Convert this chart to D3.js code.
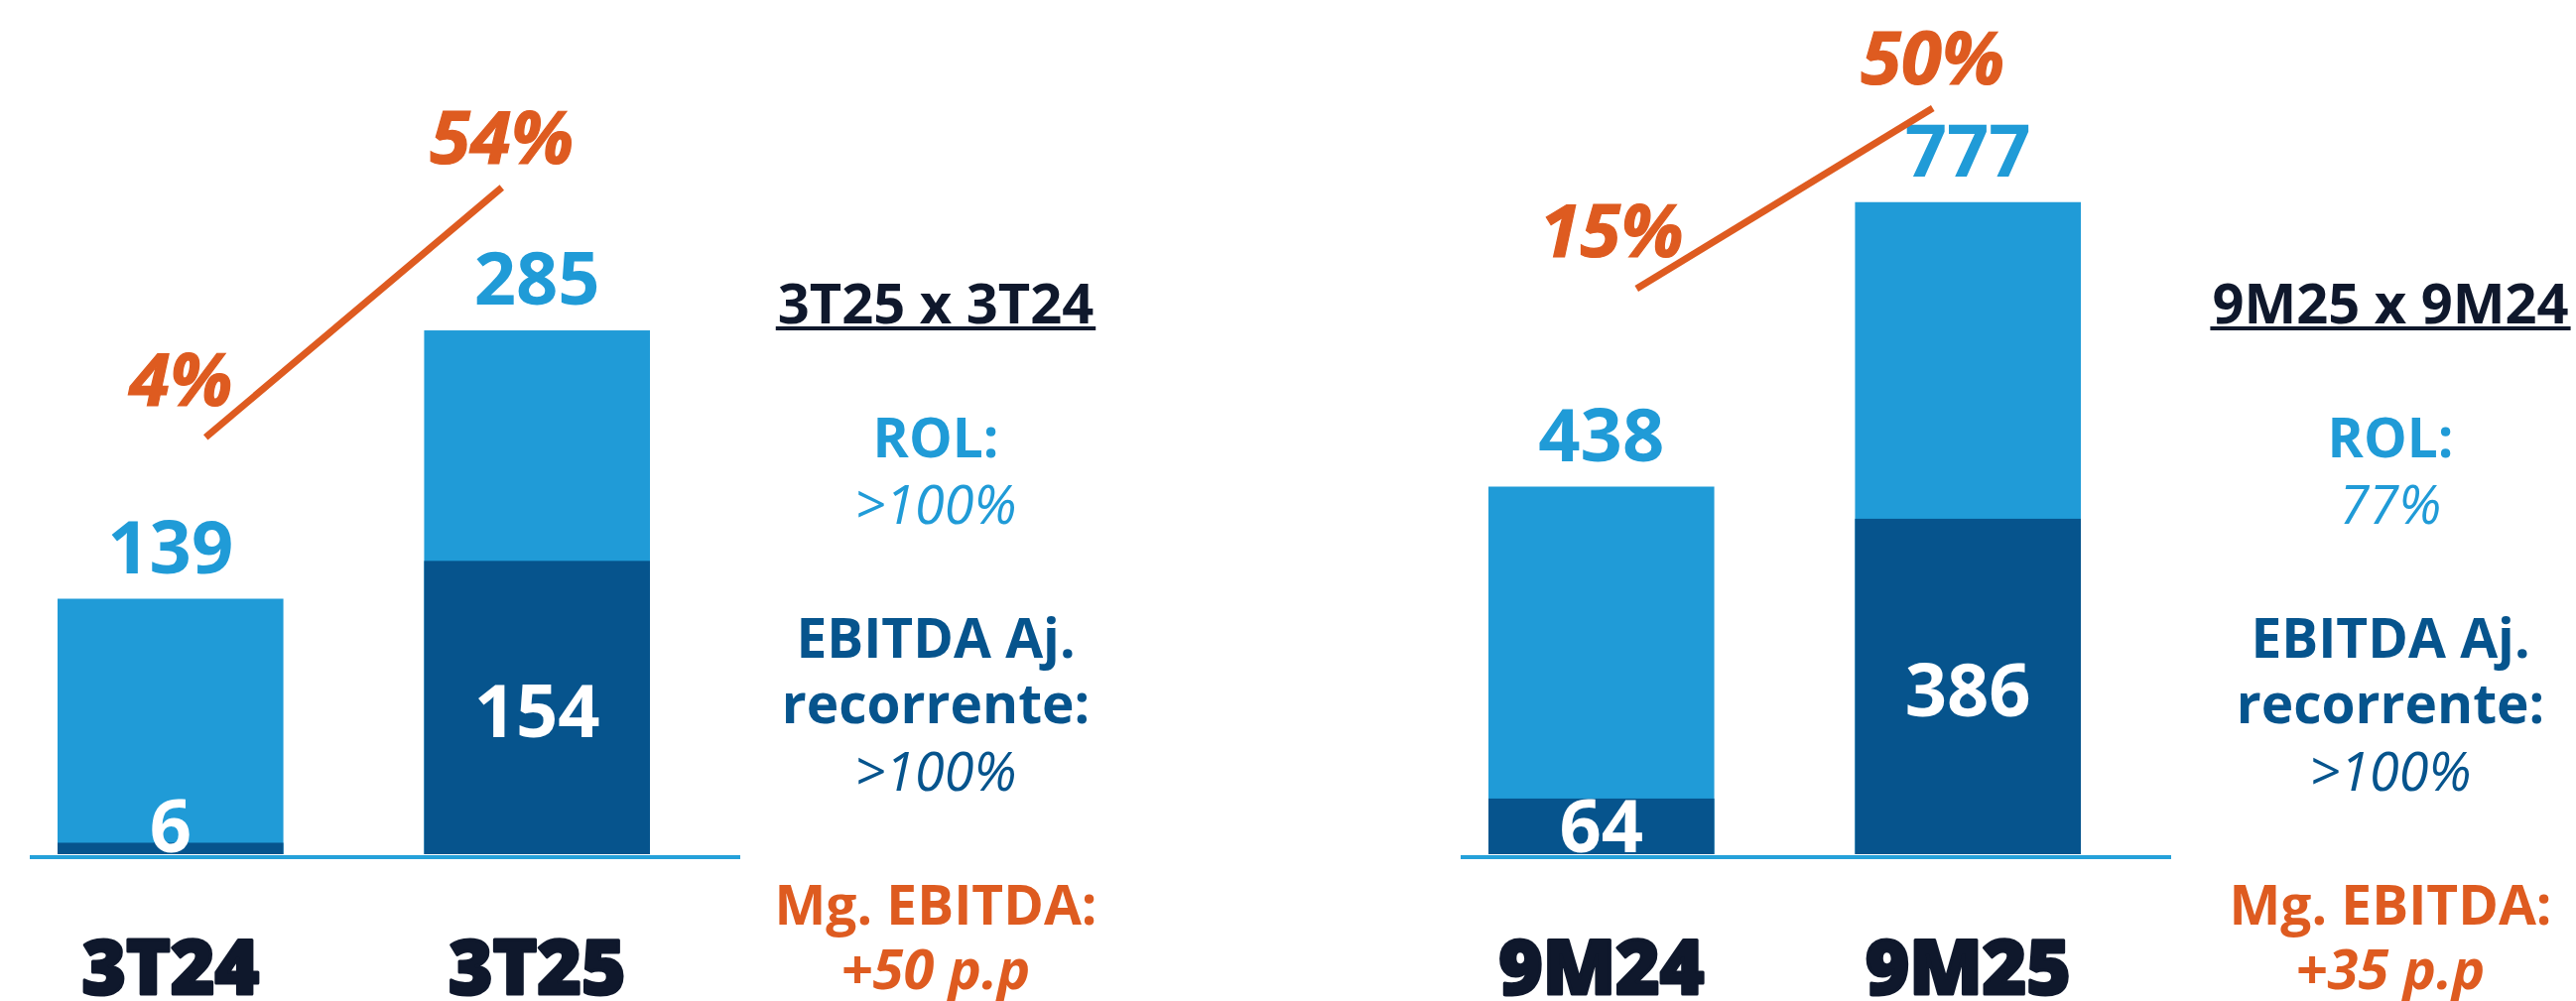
<!DOCTYPE html>
<html>
<head>
<meta charset="utf-8">
<script src="https://cdn.jsdelivr.net/npm/d3@7"></script>
<style>
  html, body { margin: 0; padding: 0; background: #ffffff; }
  svg { display: block; }
</style>
</head>
<body>
<div id="chart"></div>
<script>
// ---------------- DATA ----------------
const periodsQ = ["3T24", "3T25"];
const rolQ = [139, 285];
const ebitdaQ = [6, 154];
const marginQ = [4, 54];

const periodsYtd = ["9M24", "9M25"];
const rolYtd = [438, 777];
const ebitdaYtd = [64, 386];
const marginYtd = [15, 50];

const comparisonTitles = ["3T25 x 3T24", "9M25 x 9M24"];
const rolGrowth = [">100%", "77%"];
const ebitdaGrowth = [">100%", ">100%"];
const marginDelta = ["+50 p.p", "+35 p.p"];

// axis bounds (primary: ROL, secondary: EBITDA, tertiary: margin line)
const rolAxisMax = [400, 876];
const ebitdaAxisMax = [386, 846];
const marginAxisMin = [-79.4, -94.6];
const marginAxisMax = [67.7, 47.9];

// ---------------- STYLE / LAYOUT ----------------
const W = 2596, H = 1009;
const C = {
  light: "#209BD7",
  dark: "#06548D",
  orange: "#DE5B20",
  navy: "#0F182C",
  axis: "#25A1DA"
};
const FONT = "'Open Sans', 'Noto Sans', sans-serif";
const yBase = 861, yTop = 120;

const panels = [
  { periods: periodsQ, rol: rolQ, ebitda: ebitdaQ, margin: marginQ, x0: 58, x1: 655, textX: 943, idx: 0 },
  { periods: periodsYtd, rol: rolYtd, ebitda: ebitdaYtd, margin: marginYtd, x0: 1500, x1: 2097, textX: 2409, idx: 1 }
];

const svg = d3.select("#chart").append("svg")
  .attr("width", W).attr("height", H)
  .attr("viewBox", [0, 0, W, H]);

svg.append("rect").attr("width", W).attr("height", H).attr("fill", "#fff");

panels.forEach(p => {
  const i = p.idx;
  const g = svg.append("g");

  const x = d3.scaleBand().domain(p.periods).range([p.x0, p.x1]).paddingInner(0.384).paddingOuter(0);
  const xLine = d3.scalePoint().domain(p.periods).range([p.x0, p.x1]).padding(0.5);
  const yRol = d3.scaleLinear().domain([0, rolAxisMax[i]]).range([yBase, yTop]);
  const yEb = d3.scaleLinear().domain([0, ebitdaAxisMax[i]]).range([yBase, yTop]);
  const yMg = d3.scaleLinear().domain([marginAxisMin[i], marginAxisMax[i]]).range([yBase, yTop]);

  const rows = p.periods.map((k, j) => ({ k, rol: p.rol[j], eb: p.ebitda[j], mg: p.margin[j] }));

  // light bars (ROL)
  g.selectAll("rect.rol").data(rows).join("rect")
    .attr("class", "rol")
    .attr("x", d => x(d.k)).attr("width", x.bandwidth())
    .attr("y", d => yRol(d.rol)).attr("height", d => yBase - yRol(d.rol))
    .attr("fill", C.light);

  // dark bars (EBITDA)
  g.selectAll("rect.eb").data(rows).join("rect")
    .attr("class", "eb")
    .attr("x", d => x(d.k)).attr("width", x.bandwidth())
    .attr("y", d => yEb(d.eb)).attr("height", d => yBase - yEb(d.eb))
    .attr("fill", C.dark);

  // baseline axis line
  const axisG = g.append("g").attr("transform", `translate(0,${yBase + 3})`);
  axisG.append("line")
    .attr("x1", x.range()[0] - 28).attr("x2", x.range()[1] + 91)
    .attr("stroke", C.axis).attr("stroke-width", 4);

  // category labels
  g.selectAll("text.cat").data(rows).join("text")
    .attr("class", "cat")
    .attr("x", d => x(d.k) + x.bandwidth() / 2)
    .attr("y", 1002)
    .attr("text-anchor", "middle")
    .attr("font-family", FONT).attr("font-weight", 800).attr("font-size", 76)
    .attr("fill", C.navy)
    .attr("stroke", C.navy).attr("stroke-width", 3).attr("stroke-linejoin", "round")
    .text(d => d.k);

  // ROL value labels
  g.selectAll("text.rolv").data(rows).join("text")
    .attr("class", "rolv")
    .attr("x", d => x(d.k) + x.bandwidth() / 2)
    .attr("y", d => yRol(d.rol) - 26)
    .attr("text-anchor", "middle")
    .attr("font-family", FONT).attr("font-weight", 700).attr("font-size", 74)
    .attr("fill", C.light)
    .text(d => d.rol);

  // EBITDA value labels (white)
  g.selectAll("text.ebv").data(rows).join("text")
    .attr("class", "ebv")
    .attr("x", d => x(d.k) + x.bandwidth() / 2)
    .attr("y", d => Math.min((yEb(d.eb) + yBase) / 2 + 30, yBase - 2))
    .attr("text-anchor", "middle")
    .attr("font-family", FONT).attr("font-weight", 700).attr("font-size", 74)
    .attr("fill", "#ffffff")
    .text(d => d.eb);

  // margin line
  const line = d3.line().x(d => xLine(d.k)).y(d => yMg(d.mg));
  g.append("path").datum(rows)
    .attr("d", line)
    .attr("fill", "none")
    .attr("stroke", C.orange)
    .attr("stroke-width", 7);

  // margin labels
  g.selectAll("text.mg").data(rows).join("text")
    .attr("class", "mg")
    .attr("x", (d, j) => xLine(d.k) + (j === 0 ? -25 : 0))
    .attr("y", (d, j) => yMg(d.mg) + (j === 0 ? -32 : -24))
    .attr("text-anchor", "middle")
    .attr("font-family", FONT).attr("font-weight", 700).attr("font-style", "italic")
    .attr("font-size", 74)
    .attr("fill", C.orange)
    .attr("stroke", C.orange).attr("stroke-width", 1.2)
    .text(d => d.mg + "%");

  // right-side summary text
  const tx = p.textX;
  const title = g.append("text")
    .attr("x", tx).attr("y", 326)
    .attr("text-anchor", "middle")
    .attr("font-family", FONT).attr("font-weight", 700).attr("font-size", 56)
    .attr("fill", C.navy)
    .text(comparisonTitles[i]);
  const tw = title.node().getComputedTextLength();
  g.append("rect")
    .attr("x", tx - tw / 2 - 2).attr("width", tw + 4)
    .attr("y", 329).attr("height", 4)
    .attr("fill", C.navy);

  const lines = [
    { t: "ROL:", y: 461, c: C.light, w: 700, s: "normal", fs: 55 },
    { t: rolGrowth[i], y: 528, c: C.light, w: 400, s: "italic", fs: 54 },
    { t: "EBITDA Aj.", y: 663, c: C.dark, w: 700, s: "normal", fs: 55 },
    { t: "recorrente:", y: 729, c: C.dark, w: 700, s: "normal", fs: 55 },
    { t: ebitdaGrowth[i], y: 797, c: C.dark, w: 400, s: "italic", fs: 54 },
    { t: "Mg. EBITDA:", y: 932, c: C.orange, w: 700, s: "normal", fs: 55 },
    { t: marginDelta[i], y: 997, c: C.orange, w: 700, s: "italic", fs: 56 }
  ];
  g.selectAll("text.info").data(lines).join("text")
    .attr("class", "info")
    .attr("x", tx).attr("y", d => d.y)
    .attr("text-anchor", "middle")
    .attr("font-family", FONT)
    .attr("font-weight", d => d.w).attr("font-style", d => d.s)
    .attr("font-size", d => d.fs)
    .attr("fill", d => d.c)
    .text(d => d.t);
});
</script>
</body>
</html>
